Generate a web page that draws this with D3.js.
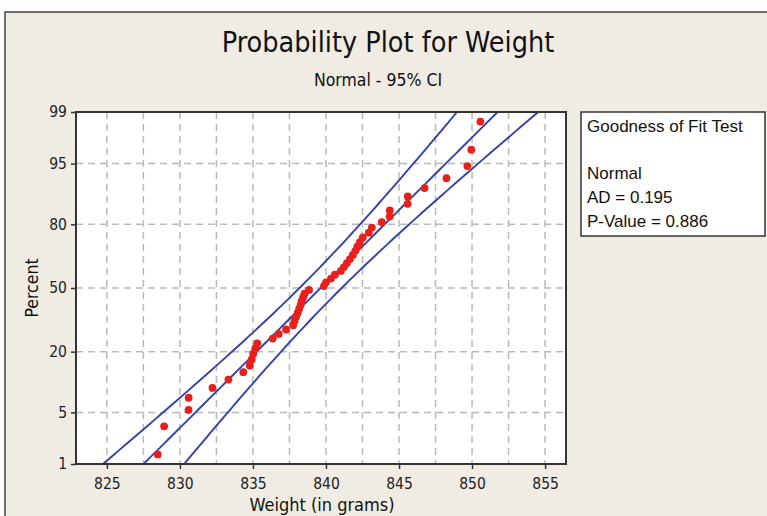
<!DOCTYPE html>
<html><head><meta charset="utf-8">
<script src="https://cdn.jsdelivr.net/npm/d3@7"></script>
<style>body{margin:0;background:#fff}</style>
</head><body>
<svg id="c" width="767" height="516"></svg>
<script>
// ---- data ----
const weights = [828.48, 828.92, 830.59, 830.6, 832.23, 833.32, 834.34, 834.78, 834.92, 835.02,
  835.16, 835.30, 836.35, 836.76, 837.27, 837.75, 837.85, 837.95, 838.06, 838.16,
  838.26, 838.33, 838.43, 838.53, 838.84, 839.86, 840.00, 840.34, 840.61, 841.02,
  841.23, 841.43, 841.64, 841.84, 842.01, 842.15, 842.32, 842.52, 842.93, 843.14,
  843.82, 844.36, 844.37, 845.59, 845.6, 846.75, 848.25, 849.68, 849.95, 850.57];
const percentTicks = [1, 5, 20, 50, 80, 95, 99];
const weightTicks = [825, 830, 835, 840, 845, 850, 855];
const weightGrid = [825, 827.5, 830, 832.5, 835, 837.5, 840, 842.5, 845, 847.5, 850, 852.5, 855];
const fitMean = 839.63, fitStDev = 5.21, sampleN = 50, ciLevel = 0.95;
const legendLines = ["Goodness of Fit Test", "Normal", "AD = 0.195", "P-Value = 0.886"];
const titleText = "Probability Plot for Weight";
const subtitleText = "Normal - 95% CI";
const xLabel = "Weight (in grams)";
const yLabel = "Percent";

// inverse normal CDF (Acklam)
function probit(p){
  const a=[-3.969683028665376e+01,2.209460984245205e+02,-2.759285104469687e+02,1.383577518672690e+02,-3.066479806614716e+01,2.506628277459239e+00];
  const b=[-5.447609879822406e+01,1.615858368580409e+02,-1.556989798598866e+02,6.680131188771972e+01,-1.328068155288572e+01];
  const c=[-7.784894002430293e-03,-3.223964580411365e-01,-2.400758277161838e+00,-2.549732539343734e+00,4.374664141464968e+00,2.938163982698783e+00];
  const d=[7.784695709041462e-03,3.224671290700398e-01,2.445134137142996e+00,3.754408661907416e+00];
  const pl=0.02425;
  if(p<pl){const q=Math.sqrt(-2*Math.log(p));return (((((c[0]*q+c[1])*q+c[2])*q+c[3])*q+c[4])*q+c[5])/((((d[0]*q+d[1])*q+d[2])*q+d[3])*q+1);}
  if(p<=1-pl){const q=p-0.5,r=q*q;return (((((a[0]*r+a[1])*r+a[2])*r+a[3])*r+a[4])*r+a[5])*q/(((((b[0]*r+b[1])*r+b[2])*r+b[3])*r+b[4])*r+1);}
  const q=Math.sqrt(-2*Math.log(1-p));return -(((((c[0]*q+c[1])*q+c[2])*q+c[3])*q+c[4])*q+c[5])/((((d[0]*q+d[1])*q+d[2])*q+d[3])*q+1);
}

const svg = d3.select("#c");
const L=76, R=566, T=112, B=464;
const zMax = probit(0.99);
const x = d3.scaleLinear().domain([822.886, 856.432]).range([L, R]);
const y = d3.scaleLinear().domain([-zMax, zMax]).range([B, T]);
const yp = p => y(probit(p/100));

// outer frame
svg.append("rect").attr("x",5).attr("y",12).attr("width",800).attr("height",600)
  .attr("fill","#f0ece4").attr("stroke","#444").attr("stroke-width",1.5);

// plot area
svg.append("rect").attr("x",L).attr("y",T).attr("width",R-L).attr("height",B-T).attr("fill","#fff");

// grid
const grid = svg.append("g").attr("stroke","#b9b9b9").attr("stroke-width",1.5).attr("stroke-dasharray","7,5");
grid.selectAll(".gv").data(weightGrid).enter().append("line")
  .attr("x1",d=>x(d)).attr("x2",d=>x(d)).attr("y1",T).attr("y2",B);
grid.selectAll(".gh").data(percentTicks.slice(1,-1)).enter().append("line")
  .attr("x1",L).attr("x2",R).attr("y1",d=>yp(d)).attr("y2",d=>yp(d));

// fit + CI lines
svg.append("clipPath").attr("id","clip").append("rect").attr("x",L).attr("y",T).attr("width",R-L).attr("height",B-T);
const zs = d3.range(-zMax, zMax+0.001, 0.04).concat([zMax]);
const zc = probit(0.5+ciLevel/2);
const band = k => zs.map(z => [x(fitMean + z*fitStDev + k*zc*fitStDev*Math.sqrt(1/sampleN + z*z/(2*sampleN))), y(z)]);
const line = d3.line();
const lg = svg.append("g").attr("clip-path","url(#clip)").attr("fill","none").attr("stroke","#3343a8").attr("stroke-width",1.9);
[-1,0,1].forEach(k => lg.append("path").attr("d", line(band(k))));

// points
const n = weights.length;
svg.append("g").selectAll("circle").data(weights.slice().sort((a,b)=>a-b)).enter().append("circle")
  .attr("cx",d=>x(d)).attr("cy",(d,i)=>yp(100*(i+1-0.3)/(n+0.4))).attr("r",3.9).attr("fill","#e8201c");

// border
svg.append("rect").attr("x",L).attr("y",T).attr("width",R-L).attr("height",B-T)
  .attr("fill","none").attr("stroke","#333").attr("stroke-width",2);

const tickFont = "'DejaVu Sans Condensed','DejaVu Sans',sans-serif";
// axes
const xa = svg.append("g").attr("transform",`translate(0,${B})`)
  .call(d3.axisBottom(x).tickValues(weightTicks).tickSize(5).tickPadding(9).tickFormat(d3.format("d")));
const ya = svg.append("g").attr("transform",`translate(${L},0)`)
  .call(d3.axisLeft(d3.scaleLinear().domain([-zMax,zMax]).range([B,T])).tickValues(percentTicks.map(p=>probit(p/100))).tickSize(5).tickPadding(4)
  .tickFormat((d,i)=>percentTicks[i]));
[xa,ya].forEach(a=>{
  a.select(".domain").remove();
  a.selectAll("line").attr("stroke","#333").attr("stroke-width",1.5);
  a.selectAll("text").attr("font-family",tickFont).attr("font-size",15.5).attr("fill","#222");
});

// titles
svg.append("text").attr("x",388).attr("y",52).attr("text-anchor","middle")
  .attr("font-family",tickFont).attr("font-size",28.5).attr("fill","#111").text(titleText);
svg.append("text").attr("x",378).attr("y",86).attr("text-anchor","middle")
  .attr("font-family",tickFont).attr("font-size",17.5).attr("fill","#111").text(subtitleText);
svg.append("text").attr("x",322).attr("y",511).attr("text-anchor","middle")
  .attr("font-family",tickFont).attr("font-size",18).attr("fill","#111").text(xLabel);
svg.append("text").attr("transform","translate(38,288) rotate(-90)").attr("text-anchor","middle")
  .attr("font-family",tickFont).attr("font-size",17.5).attr("fill","#111").text(yLabel);

// legend box
svg.append("rect").attr("x",581).attr("y",112).attr("width",184).attr("height",124)
  .attr("fill","#fff").attr("stroke","#333").attr("stroke-width",1.5);
const legY = [132, 179, 203, 227];
svg.append("g").selectAll("text").data(legendLines).enter().append("text")
  .attr("x",587).attr("y",(d,i)=>legY[i]).attr("font-family","'Liberation Sans',Arial,sans-serif")
  .attr("font-size",17).attr("fill","#111").text(d=>d);
</script>
</body></html>
